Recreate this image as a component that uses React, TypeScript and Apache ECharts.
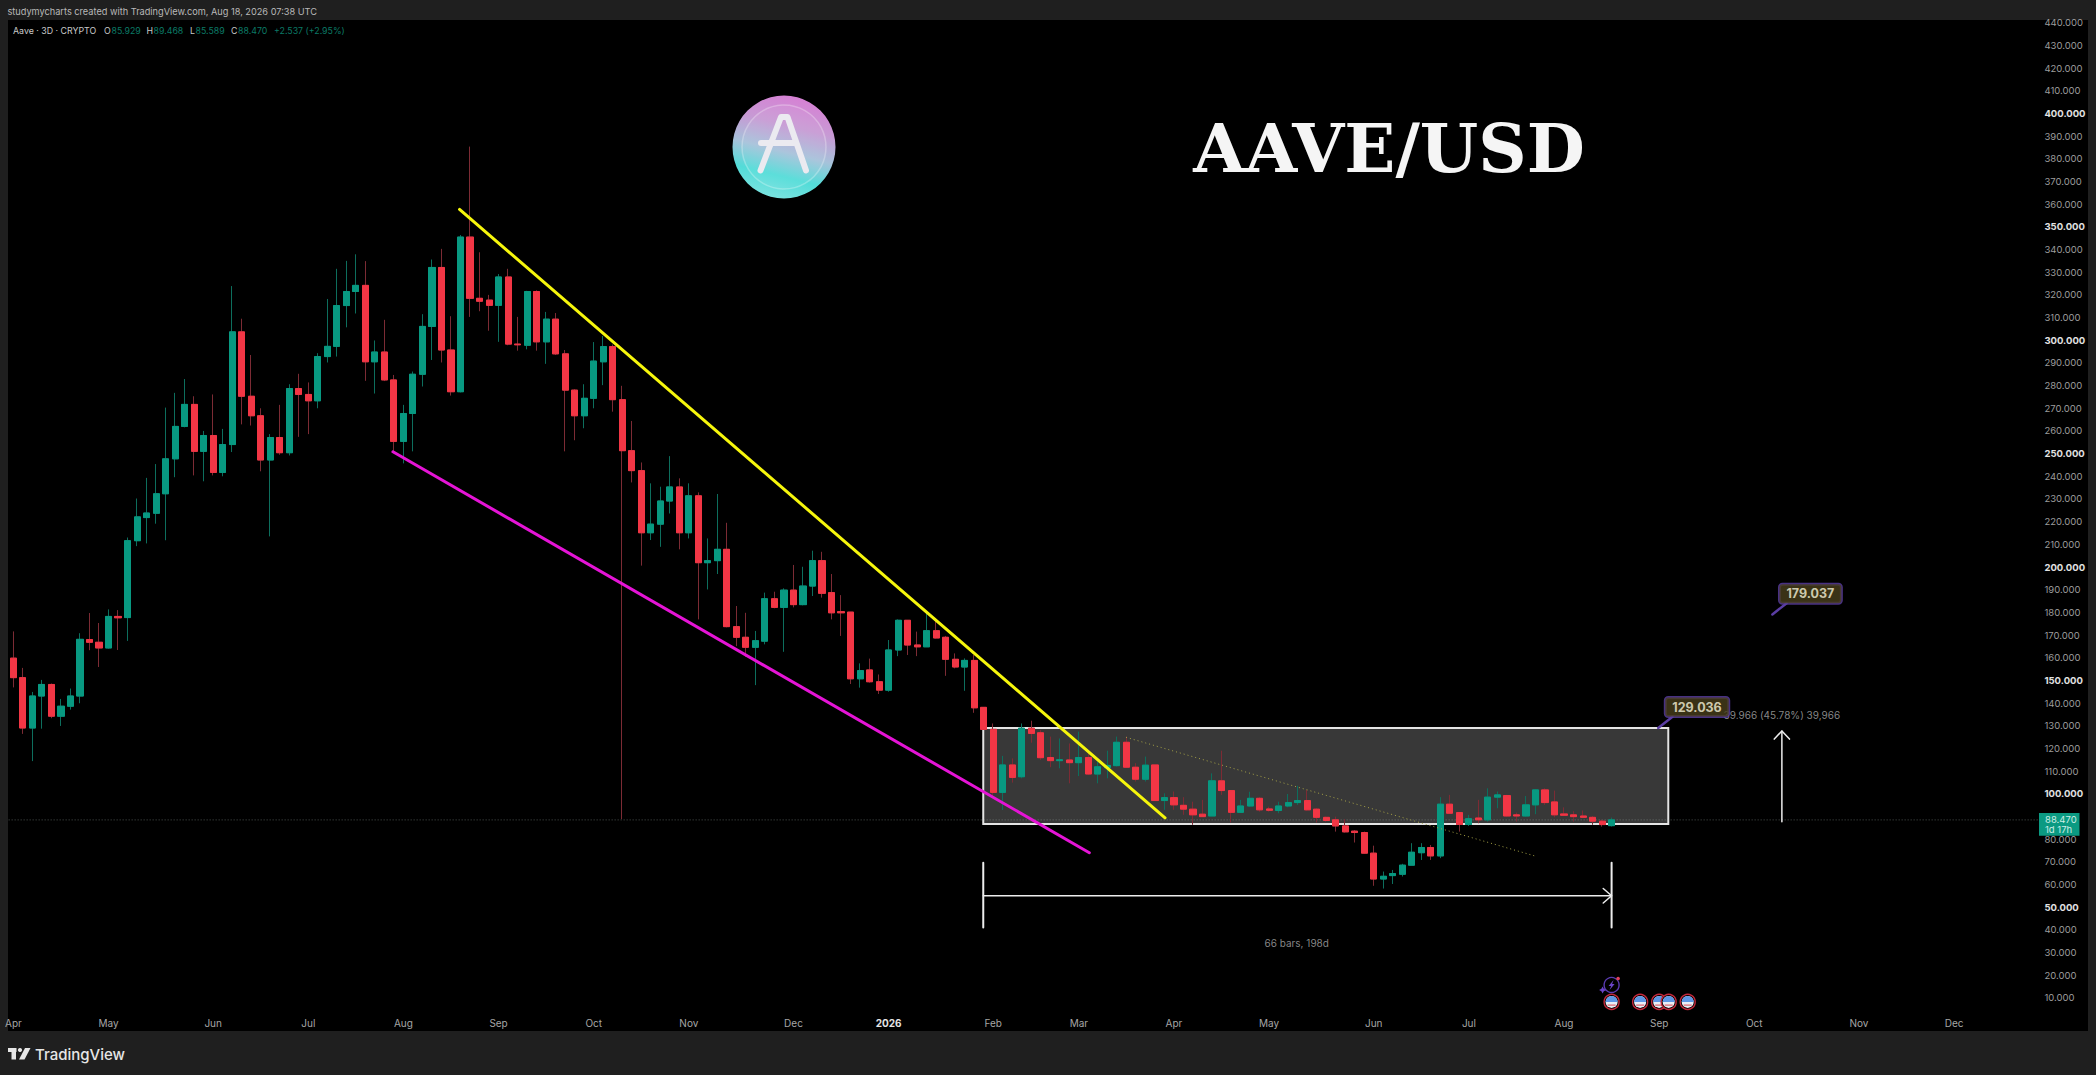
import React, { useEffect, useRef } from 'react';
import * as echarts from 'echarts';

// 3D bars
const opens = [
  159.8, 151.2, 129.0, 143.1, 148.2, 134.2, 138.6, 143.1, 168.0, 166.8,
  164.3, 178.2, 177.7, 211.6, 221.8, 223.7, 232.3, 247.7, 262.0, 271.7,
  251.0, 258.0, 241.7, 254.0, 303.7, 275.3, 266.7, 247.2, 257.1, 250.4,
  278.7, 276.1, 273.3, 292.8, 297.3, 315.3, 321.5, 324.2, 290.5, 294.8,
  282.5, 255.4, 267.7, 285.0, 306.1, 332.1, 295.7, 277.3, 345.5, 318.5,
  317.7, 315.4, 327.9, 298.3, 297.8, 321.5, 299.3, 309.3, 294.0, 278.0,
  266.7, 274.4, 290.5, 297.2, 273.8, 251.3, 242.5, 215.1, 218.9, 229.1,
  235.3, 215.1, 231.4, 201.9, 202.8, 207.8, 173.7, 169.0, 164.6, 167.3,
  186.0, 182.2, 189.8, 183.4, 191.6, 202.8, 188.7, 180.3, 180.1, 150.7,
  154.6, 149.4, 145.7, 163.4, 176.5, 165.6, 164.8, 171.9, 169.0, 159.3,
  155.9, 158.8, 138.1, 128.4, 100.6, 112.7, 107.5, 128.9, 126.9, 116.0,
  114.6, 114.9, 113.7, 116.0, 108.7, 111.5, 112.4, 122.7, 111.7, 106.4,
  112.7, 97.0, 98.3, 94.9, 93.2, 91.0, 90.2, 105.7, 101.4, 91.8,
  94.6, 98.0, 93.3, 92.6, 94.6, 96.1, 97.0, 93.2, 89.6, 88.5,
  85.8, 83.5, 82.9, 73.8, 62.4, 63.9, 64.5, 68.5, 74.0, 76.3,
  72.6, 95.4, 91.7, 86.5, 89.3, 88.5, 98.5, 99.2, 90.7, 90.2,
  95.1, 101.7, 96.4, 91.1, 90.7, 90.2, 89.6, 87.9, 85.929,
];
const closes = [
  151.2, 129.0, 143.1, 148.2, 134.2, 138.6, 143.1, 168.1, 166.8, 164.3,
  178.2, 177.6, 211.6, 222.1, 223.8, 232.3, 247.7, 262.0, 271.7, 251.0,
  258.0, 241.7, 254.0, 303.7, 275.3, 266.7, 247.2, 257.1, 250.4, 278.7,
  276.1, 273.3, 292.8, 297.3, 315.3, 321.5, 324.2, 290.5, 294.8, 282.5,
  255.4, 267.7, 285.0, 306.1, 332.1, 295.7, 277.3, 345.5, 318.5, 317.2,
  315.4, 327.9, 298.3, 298.0, 321.5, 299.3, 309.3, 294.0, 278.0, 266.7,
  274.4, 290.8, 297.2, 273.8, 251.3, 242.5, 215.1, 218.9, 229.1, 235.3,
  215.1, 231.4, 201.9, 202.8, 207.8, 173.7, 169.0, 164.6, 167.5, 186.0,
  182.2, 189.8, 183.4, 191.6, 202.8, 188.4, 179.8, 179.8, 150.7, 154.3,
  149.4, 145.7, 163.4, 176.5, 165.6, 164.8, 171.9, 168.7, 159.3, 155.9,
  158.8, 137.9, 128.4, 100.6, 112.7, 107.2, 128.9, 126.6, 115.9, 114.6,
  115.0, 113.7, 116.0, 108.7, 111.9, 112.5, 122.7, 111.7, 106.4, 112.6,
  97.0, 98.3, 95.1, 93.2, 90.7, 89.9, 105.7, 101.4, 91.8, 94.6,
  98.0, 92.9, 92.7, 94.6, 96.1, 97.0, 92.9, 89.6, 88.2, 85.8,
  83.2, 82.9, 73.8, 62.4, 63.6, 64.8, 68.5, 74.2, 76.3, 72.6,
  95.4, 91.4, 86.5, 89.0, 88.5, 98.5, 99.5, 90.2, 90.2, 95.1,
  101.7, 96.1, 90.7, 90.5, 89.9, 89.6, 87.9, 86.4, 88.47,
];
const lows = [
  146.9, 126.4, 114.4, 128.7, 133.3, 129.9, 137.1, 139.9, 163.3, 155.9,
  164.0, 163.4, 167.4, 209.2, 210.4, 219.1, 211.8, 239.6, 261.6, 240.4,
  237.8, 240.4, 240.0, 250.7, 262.9, 262.4, 242.2, 213.5, 249.5, 249.2,
  257.4, 258.6, 270.0, 290.2, 292.8, 305.7, 311.8, 282.1, 276.5, 282.0,
  250.2, 245.7, 251.0, 279.6, 291.3, 290.2, 275.6, 277.0, 310.3, 312.8,
  304.2, 299.3, 297.8, 295.4, 296.0, 295.4, 289.6, 293.5, 251.0, 255.9,
  261.2, 270.0, 280.2, 268.5, 88.8, 237.3, 200.6, 211.9, 208.9, 223.6,
  207.8, 212.6, 176.9, 190.1, 196.9, 173.4, 165.1, 160.4, 147.9, 165.9,
  181.8, 162.6, 182.2, 183.1, 187.2, 186.5, 176.9, 169.6, 148.4, 146.8,
  149.0, 144.0, 145.0, 160.7, 161.2, 160.7, 164.8, 168.5, 152.0, 155.3,
  145.4, 135.7, 128.4, 98.7, 92.8, 104.9, 106.8, 122.5, 114.9, 111.7,
  111.2, 104.6, 107.8, 108.3, 104.6, 106.8, 112.0, 111.5, 105.4, 105.4,
  97.0, 92.9, 92.9, 90.7, 86.3, 89.9, 90.2, 99.5, 87.3, 91.8,
  94.3, 92.1, 92.1, 91.4, 94.0, 95.1, 92.6, 87.3, 87.7, 83.3,
  82.9, 78.5, 73.5, 59.4, 58.2, 60.2, 63.5, 68.5, 70.8, 70.8,
  71.6, 91.4, 83.3, 85.8, 87.0, 87.7, 93.6, 89.9, 87.7, 89.9,
  91.0, 95.1, 89.6, 90.2, 87.7, 89.5, 86.3, 85.5, 85.589,
];
const highs = [
  171.6, 155.5, 144.9, 150.2, 148.6, 141.8, 146.4, 170.8, 179.7, 175.3,
  181.3, 181.0, 213.0, 230.2, 239.3, 245.4, 270.3, 276.8, 282.9, 275.3,
  260.0, 276.1, 260.9, 323.9, 309.5, 293.5, 270.0, 258.6, 271.5, 280.6,
  285.2, 281.4, 294.3, 318.2, 331.5, 335.0, 337.9, 334.9, 299.9, 309.0,
  284.7, 271.5, 286.2, 311.5, 335.6, 340.3, 310.6, 346.4, 385.4, 338.8,
  320.0, 329.2, 331.5, 310.3, 321.8, 322.0, 312.5, 312.0, 295.7, 278.4,
  280.6, 299.2, 301.9, 298.1, 279.9, 264.4, 246.1, 236.9, 235.4, 248.9,
  239.1, 236.9, 232.9, 212.6, 232.2, 219.5, 182.8, 179.8, 171.8, 188.7,
  189.1, 190.6, 200.9, 200.1, 207.2, 206.7, 196.9, 187.6, 180.1, 157.5,
  159.6, 152.6, 167.8, 176.9, 176.5, 171.5, 180.3, 177.3, 169.6, 161.9,
  159.7, 161.2, 138.1, 131.0, 116.7, 115.6, 131.0, 132.2, 128.1, 125.2,
  124.4, 122.2, 127.4, 119.3, 114.2, 119.0, 125.2, 125.2, 113.5, 116.4,
  112.7, 100.2, 101.0, 98.5, 96.5, 97.3, 109.0, 119.0, 101.4, 97.3,
  100.9, 98.5, 94.3, 96.5, 99.9, 103.5, 101.7, 93.6, 89.9, 89.9,
  88.8, 84.0, 83.3, 77.1, 65.7, 66.4, 69.1, 78.2, 78.2, 77.4,
  98.5, 99.5, 91.7, 90.7, 97.3, 102.4, 101.0, 99.5, 91.7, 99.0,
  102.0, 102.4, 101.4, 94.0, 92.3, 92.6, 90.2, 88.5, 89.468,
];

// time axis: bar slot -> label, the chart runs on past the last bar
const barSlots = 214;
const monthSlots = [0, 10, 21, 31, 41, 51, 61, 71, 82, 92, 103, 112, 122, 132, 143, 153, 163, 173, 183, 194, 204];
const monthNames = ['Apr', 'May', 'Jun', 'Jul', 'Aug', 'Sep', 'Oct', 'Nov', 'Dec', '2026', 'Feb', 'Mar', 'Apr', 'May', 'Jun', 'Jul', 'Aug', 'Sep', 'Oct', 'Nov', 'Dec'];

// drawings, as [bar slot, price]
const yellowLine = [[46.9, 357.7], [121.06, 89.4]];
const magentaLine = [[39.9, 250.8], [113.1, 74]];
const dottedTrend = [[116.96, 124.9], [159.9, 72.6]];
const rangeBox = { from: 101.95, to: 173.96, top: 129.036, bottom: 86.7 };
const lastPrice = 88.47;
const dateRange = { from: 101.95, to: 168, price: 55, top: 69.6, bottom: 41 };
const priceArrow = { slot: 185.9, from: 87.7, to: 127.7 };
const targets = [
  { label: '129.036', box: [176.98, 138.25], base: [174.4, 134], tip: [172.9, 129.036] },
  { label: '179.037', box: [188.9, 188.2], base: [186.4, 184], tip: [184.9, 179.1] },
];
const eventSlots = [168, 171, 173, 174, 176];
const eventPrice = 8.2;

const UI_FONT = 'Inter';
const GREEN = '#089981';
const RED = '#f23645';
const GREEN_WICK = '#0d6e5d';
const RED_WICK = '#7c2b34';
const WHITE = '#ececec';

const legendParts = [
  { text: 'Aave · 3D · CRYPTO', x: 13, fill: '#c9c9c9' },
  { text: 'O', x: 104, fill: '#c9c9c9' },
  { text: '85.929', x: 111.5, fill: '#0b7a66' },
  { text: 'H', x: 146.5, fill: '#c9c9c9' },
  { text: '89.468', x: 153.5, fill: '#0b7a66' },
  { text: 'L', x: 190, fill: '#c9c9c9' },
  { text: '85.589', x: 195.5, fill: '#0b7a66' },
  { text: 'C', x: 231, fill: '#c9c9c9' },
  { text: '88.470', x: 238, fill: '#0b7a66' },
  { text: '+2.537 (+2.95%)', x: 274, fill: '#0b7a66' },
];

const line = (name: string, data: number[][], color: string, width: number, type: any = 'solid', z = 4) => ({
  name,
  type: 'line',
  xAxisIndex: 1,
  data,
  symbol: 'none',
  silent: true,
  z,
  lineStyle: { color, width, type, cap: type === 'solid' ? 'round' : 'butt' },
});

const note = (text: string, slot: number, price: number) => ({
  type: 'scatter',
  xAxisIndex: 1,
  data: [[slot, price]],
  symbolSize: 0,
  silent: true,
  z: 5,
  label: { show: true, position: 'inside', formatter: text, color: '#a9a9a9', fontSize: 10, fontFamily: UI_FONT },
});

const buildOption = () => {
  const categories = Array.from({ length: barSlots }, (_, i) => {
    const at = monthSlots.indexOf(i);
    return at >= 0 ? monthNames[at] : '';
  });
  const wicks = opens.map((o, i) => [o, closes[i], lows[i], highs[i]]);
  // second layer with no wick, so the bodies stay bright over the dim wicks
  const bodies = opens.map((o, i) => [o, closes[i], Math.min(o, closes[i]), Math.max(o, closes[i])]);
  const { slot, from, to } = priceArrow;

  return {
    animation: false,
    backgroundColor: '#1f1f1f',
    textStyle: { fontFamily: UI_FONT },
    grid: { left: 8.64, width: 2035.8, top: 22.8, height: 997.7 },
    xAxis: [
      {
        type: 'category',
        data: categories,
        axisLine: { show: false },
        axisTick: { show: false },
        splitLine: { show: false },
        axisLabel: {
          interval: (_: number, v: string) => v !== '',
          margin: -3,
          color: '#a6a6a6',
          fontSize: 10,
          fontFamily: UI_FONT,
          formatter: (v: string) => (v === '2026' ? `{y|${v}}` : v),
          rich: { y: { color: '#e4e4e4', fontWeight: 700, fontSize: 10, fontFamily: UI_FONT } },
        },
      },
      { type: 'value', min: -0.5, max: barSlots - 0.5, show: false },
    ],
    yAxis: {
      type: 'value',
      position: 'right',
      min: 0,
      max: 440,
      interval: 10,
      axisLine: { show: false },
      axisTick: { show: false },
      splitLine: { show: false },
      axisLabel: {
        margin: 0,
        color: '#9c9c9c',
        fontSize: 9.5,
        fontFamily: UI_FONT,
        showMinLabel: false,
        formatter: (v: number) => {
          if (v === 0) return '';
          return v % 50 === 0 ? `{b|${v.toFixed(3)}}` : v.toFixed(3);
        },
        rich: { b: { color: '#e2e2e2', fontWeight: 700, fontSize: 9.5, fontFamily: UI_FONT } },
      },
    },
    series: [
      {
        ...line('last price', [[-0.5, lastPrice], [barSlots - 0.5, lastPrice]], 'rgba(190,205,200,0.4)', 1, [1, 2], 1),
        markArea: {
          silent: true,
          itemStyle: { color: '#383838', borderColor: '#e4e4e4', borderWidth: 2 },
          data: [[{ coord: [rangeBox.from, rangeBox.top] }, { coord: [rangeBox.to, rangeBox.bottom] }]],
        },
      },
      {
        name: 'wicks',
        type: 'candlestick',
        data: wicks,
        barWidth: 6.6,
        z: 2,
        itemStyle: { color: GREEN_WICK, color0: RED_WICK, borderColor: GREEN_WICK, borderColor0: RED_WICK, borderWidth: 1 },
      },
      {
        name: 'AAVE',
        type: 'candlestick',
        data: bodies,
        barWidth: 6.6,
        z: 3,
        itemStyle: { color: GREEN, color0: RED, borderColor: GREEN, borderColor0: RED, borderWidth: 1 },
      },
      line('dotted trend', dottedTrend, '#a5a246', 1, [1, 3]),
      line('yellow', yellowLine, '#f6f60c', 3),
      line('magenta', magentaLine, '#e514d6', 3),
      line('range start', [[dateRange.from, dateRange.top], [dateRange.from, dateRange.bottom]], WHITE, 2),
      line('range end', [[dateRange.to, dateRange.top], [dateRange.to, dateRange.bottom]], WHITE, 2),
      line('range', [[dateRange.from, dateRange.price], [dateRange.to, dateRange.price]], WHITE, 1.5),
      line('range head', [[dateRange.to - 0.88, dateRange.price + 3.2], [dateRange.to, dateRange.price], [dateRange.to - 0.88, dateRange.price - 3.2]], WHITE, 1.5),
      line('price arrow', [[slot, from], [slot, to]], WHITE, 1.5),
      line('price head', [[slot - 0.8, to - 3.6], [slot, to], [slot + 0.8, to - 3.6]], WHITE, 1.5),
      note('66 bars, 198d', 134.9, 34),
      note('39.966 (45.78%) 39,966', 185.9, 134.7),
      ...targets.map((t) => line(`pointer ${t.label}`, [t.tip, t.base], '#5a3da3', 2.5, 'solid', 5)),
      ...targets.map((t) => ({
        type: 'scatter',
        xAxisIndex: 1,
        data: [t.box],
        symbolSize: 0,
        silent: true,
        z: 6,
        label: {
          show: true,
          position: 'inside',
          formatter: t.label,
          color: '#f6f2d8',
          fontSize: 12.5,
          fontWeight: 700,
          fontFamily: UI_FONT,
          backgroundColor: '#493e1b',
          borderColor: '#5a3da3',
          borderWidth: 1.5,
          borderRadius: 3,
          padding: [3, 7],
        },
      })),
      {
        type: 'custom',
        xAxisIndex: 1,
        clip: false,
        silent: true,
        z: 6,
        data: eventSlots.map((s) => [s, eventPrice]),
        encode: { x: 0, y: 1 },
        renderItem: (_: unknown, api: any) => {
          const [cx, cy] = api.coord([api.value(0), api.value(1)]);
          return {
            type: 'group',
            children: [
              { type: 'circle', shape: { cx, cy, r: 7.5 }, style: { fill: '#000', stroke: '#c4283a', lineWidth: 1.4 } },
              { type: 'circle', shape: { cx, cy, r: 6 }, style: { fill: '#e9eef6' } },
              { type: 'sector', shape: { cx, cy, r0: 0, r: 6, startAngle: Math.PI, endAngle: Math.PI * 2 }, style: { fill: '#5d97e6' } },
              { type: 'line', shape: { x1: cx - 4, y1: cy + 3.2, x2: cx + 4, y2: cy + 3.2 }, style: { stroke: '#e0666e', lineWidth: 1.2 } },
            ],
          };
        },
      },
      {
        type: 'custom',
        xAxisIndex: 1,
        clip: false,
        silent: true,
        z: 6,
        data: [[168, 15.66]],
        encode: { x: 0, y: 1 },
        renderItem: (_: unknown, api: any) => {
          const [cx, cy] = api.coord([api.value(0), api.value(1)]);
          return {
            type: 'group',
            children: [
              { type: 'circle', shape: { cx, cy, r: 7.5 }, style: { fill: 'none', stroke: '#5a3bb0', lineWidth: 1.4 } },
              { type: 'polygon', shape: { points: [[cx + 2, cy - 5], [cx - 3, cy + 1], [cx - 0.5, cy + 1], [cx - 2, cy + 5], [cx + 3, cy - 1], [cx + 0.5, cy - 1]] }, style: { fill: '#6a45c8' } },
              { type: 'polygon', shape: { points: [[cx - 9, cy + 1.5], [cx - 7.8, cy + 3.8], [cx - 5.5, cy + 5], [cx - 7.8, cy + 6.2], [cx - 9, cy + 8.5], [cx - 10.2, cy + 6.2], [cx - 12.5, cy + 5], [cx - 10.2, cy + 3.8]] }, style: { fill: '#6a45c8' } },
              { type: 'circle', shape: { cx: cx + 6.5, cy: cy - 6.5, r: 1.8 }, style: { fill: '#e2405a' } },
            ],
          };
        },
      },
    ],
    graphic: [
      { type: 'rect', z: -10, shape: { x: 8, y: 20, width: 2080, height: 1011 }, style: { fill: '#000' } },
      {
        type: 'text', z: 50,
        style: { x: 7.5, y: 11, text: 'studymycharts created with TradingView.com, Aug 18, 2026 07:38 UTC', fill: '#b9b9b9', font: `9.2px ${UI_FONT}`, verticalAlign: 'middle' },
      },
      ...legendParts.map((p) => ({
        type: 'text', z: 50,
        style: { x: p.x, y: 30.5, text: p.text, fill: p.fill, font: `8.8px ${UI_FONT}`, verticalAlign: 'middle' },
      })),
      {
        type: 'text', z: 50,
        style: { x: 1389, y: 148, text: 'AAVE/USD', fill: '#f5f5f5', font: `bold 67px "DejaVu Serif"`, align: 'center', verticalAlign: 'middle' },
      },
      // coin logo
      {
        type: 'circle', z: 50, shape: { cx: 784, cy: 147, r: 51.5 },
        style: {
          fill: new echarts.graphic.LinearGradient(0.65, 0, 0.4, 1, [
            { offset: 0, color: '#d77fd4' },
            { offset: 0.3, color: '#c79ad4' },
            { offset: 0.55, color: '#a6c2da' },
            { offset: 0.78, color: '#52dcd8' },
            { offset: 1, color: '#7be3e0' },
          ]),
        },
      },
      { type: 'circle', z: 51, shape: { cx: 784, cy: 147, r: 42 }, style: { fill: 'rgba(255,255,255,0.06)', stroke: 'rgba(255,255,255,0.28)', lineWidth: 1.5 } },
      { type: 'polyline', z: 52, shape: { points: [[760.5, 170.5], [781, 117], [787.5, 117], [806, 170.5]] }, style: { fill: 'none', stroke: '#ebeaf0', lineWidth: 6, lineCap: 'round', lineJoin: 'round' } },
      { type: 'line', z: 52, shape: { x1: 761, y1: 143, x2: 794, y2: 143 }, style: { stroke: '#ebeaf0', lineWidth: 6, lineCap: 'round' } },
      // last price tag on the axis
      { type: 'rect', z: 60, shape: { x: 2039, y: 813, width: 40.5, height: 22.7 }, style: { fill: '#0b9a82' } },
      { type: 'text', z: 61, style: { x: 2045, y: 819, text: '88.470', fill: '#cdeee6', font: `9.5px ${UI_FONT}`, verticalAlign: 'middle' } },
      { type: 'text', z: 61, style: { x: 2045, y: 829.5, text: '1d 17h', fill: '#cdeee6', font: `9.5px ${UI_FONT}`, verticalAlign: 'middle' } },
      // footer logo
      { type: 'rect', z: 50, shape: { x: 8, y: 1048, width: 8.5, height: 4 }, style: { fill: '#e6e6e6' } },
      { type: 'rect', z: 50, shape: { x: 11.5, y: 1048, width: 4.5, height: 11.5 }, style: { fill: '#e6e6e6' } },
      { type: 'circle', z: 50, shape: { cx: 20, cy: 1050, r: 2.1 }, style: { fill: '#e6e6e6' } },
      { type: 'polygon', z: 50, shape: { points: [[25, 1048], [30.5, 1048], [24.5, 1059.5], [19, 1059.5]] }, style: { fill: '#e6e6e6' } },
      { type: 'text', z: 50, style: { x: 35, y: 1054, text: 'TradingView', fill: '#e6e6e6', font: `500 15px ${UI_FONT}`, verticalAlign: 'middle' } },
    ],
  };
};

const App: React.FC = () => {
  const chartRef = useRef<HTMLDivElement>(null);

  useEffect(() => {
    if (!chartRef.current) return;
    const chart = echarts.init(chartRef.current, undefined, { renderer: 'svg' });
    chart.setOption(buildOption() as any);
    return () => {
      chart.dispose();
    };
  }, []);

  return <div ref={chartRef} style={{ position: 'fixed', left: 0, top: 0, width: 2096, height: 1075 }} />;
};

export default App;
